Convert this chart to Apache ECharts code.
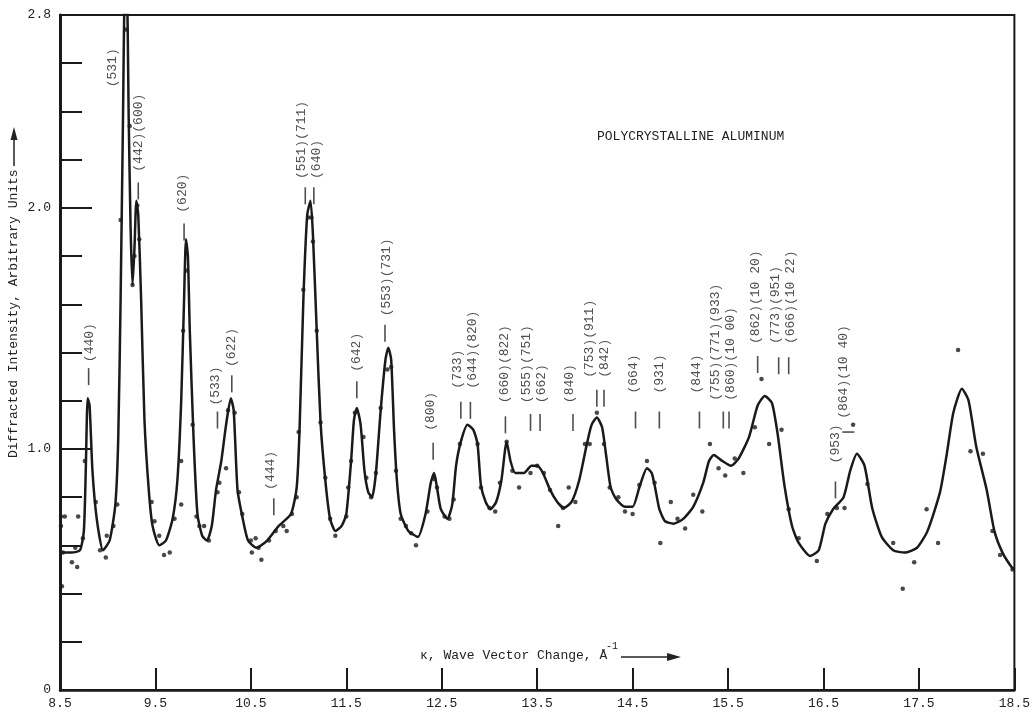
<!DOCTYPE html>
<html>
<head>
<meta charset="utf-8">
<title>Polycrystalline aluminum</title>
<script src="https://cdn.jsdelivr.net/npm/echarts@6/dist/echarts.min.js"></script>
<style>
  html, body { margin: 0; padding: 0; background: #fff; overflow: hidden; }
  #chart { width: 1033px; height: 717px; }
</style>
</head>
<body>
<div id="chart"></div>
<script>
// κ axis starts at 8.5; the axis is drawn from 0 and labelled with the offset
const K0 = 8.5;

// smooth curve drawn through the measurements
const curveK = [8.50,8.625,8.71,8.75,8.77,8.79,8.81,8.84,8.885,8.95,
  9.02,9.08,9.11,9.135,9.16,9.18,9.20,9.22,9.24,9.26,
  9.28,9.30,9.32,9.35,9.385,9.43,9.47,9.54,9.61,9.68,
  9.73,9.77,9.80,9.82,9.84,9.86,9.90,9.94,9.99,10.04,
  10.09,10.135,10.19,10.24,10.29,10.32,10.36,10.41,10.47,10.56,
  10.67,10.79,10.92,10.98,11.01,11.05,11.09,11.125,11.15,11.19,
  11.23,11.28,11.33,11.385,11.45,11.50,11.55,11.58,11.61,11.65,
  11.69,11.73,11.77,11.81,11.86,11.91,11.94,11.97,12.00,12.03,
  12.07,12.15,12.25,12.33,12.385,12.42,12.45,12.49,12.56,12.61,
  12.65,12.70,12.77,12.83,12.875,12.91,12.96,13.01,13.07,13.125,
  13.18,13.22,13.27,13.36,13.44,13.50,13.56,13.635,13.71,13.78,
  13.86,13.94,14.02,14.07,14.125,14.18,14.22,14.27,14.33,14.42,
  14.50,14.57,14.65,14.70,14.74,14.78,14.84,14.93,15.03,15.135,
  15.24,15.30,15.35,15.44,15.53,15.61,15.72,15.81,15.885,15.96,
  16.02,16.09,16.17,16.24,16.36,16.45,16.52,16.60,16.71,16.78,
  16.85,16.93,17.01,17.11,17.23,17.35,17.48,17.59,17.72,17.79,
  17.86,17.95,18.02,18.10,18.21,18.29,18.375,18.47,18.5];
const curveI = [0.57,0.57,0.58,0.66,0.91,1.21,1.18,0.91,0.71,0.58,
  0.62,0.77,1.04,1.62,2.37,2.9,2.9,2.37,1.91,1.68,
  1.83,2.03,1.97,1.62,1.12,0.83,0.68,0.60,0.62,0.71,
  0.87,1.20,1.62,1.87,1.80,1.49,1.04,0.73,0.64,0.62,
  0.68,0.83,0.95,1.10,1.21,1.16,0.83,0.72,0.62,0.59,
  0.62,0.68,0.73,0.84,1.08,1.62,1.97,2.03,1.89,1.49,
  1.11,0.87,0.71,0.66,0.68,0.73,0.95,1.12,1.17,1.10,
  0.91,0.82,0.80,0.90,1.16,1.37,1.42,1.37,1.08,0.87,
  0.73,0.66,0.635,0.73,0.86,0.90,0.84,0.75,0.71,0.77,
  0.93,1.03,1.10,1.08,1.02,0.85,0.78,0.75,0.78,0.87,
  1.03,0.95,0.90,0.90,0.93,0.93,0.90,0.83,0.78,0.755,
  0.78,0.87,1.02,1.10,1.13,1.09,0.98,0.84,0.79,0.76,
  0.76,0.84,0.92,0.90,0.83,0.75,0.70,0.69,0.71,0.76,
  0.86,0.95,0.975,0.95,0.93,0.96,1.05,1.18,1.22,1.19,
  1.06,0.85,0.68,0.61,0.556,0.58,0.69,0.75,0.80,0.91,
  0.98,0.93,0.755,0.635,0.58,0.57,0.59,0.66,0.82,0.975,
  1.15,1.25,1.20,1.01,0.83,0.66,0.57,0.51,0.50];

// measured points
const dotK = [8.51,8.55,8.69,8.51,8.74,8.53,8.66,8.625,8.68,8.52,
  8.76,8.875,8.92,8.98,8.99,9.06,9.10,9.135,9.19,9.23,
  9.26,9.28,9.33,9.31,9.46,9.49,9.54,9.59,9.65,9.70,
  9.77,9.77,9.79,9.83,9.89,9.93,9.96,10.01,10.06,10.15,
  10.17,10.24,10.26,10.33,10.375,10.41,10.50,10.55,10.51,10.61,
  10.58,10.69,10.76,10.84,10.875,10.93,10.98,11.00,11.05,11.10,
  11.135,11.15,11.19,11.23,11.28,11.33,11.385,11.50,11.52,11.55,
  11.59,11.68,11.71,11.76,11.81,11.86,11.93,11.97,12.02,12.07,
  12.125,12.18,12.23,12.35,12.42,12.45,12.53,12.58,12.625,12.69,
  12.875,12.91,13.00,13.06,13.11,13.18,13.24,13.31,13.43,13.50,
  13.57,13.635,13.83,13.72,13.77,13.90,14.00,14.05,14.125,14.20,
  14.26,14.35,14.42,14.50,14.57,14.65,14.73,14.79,14.90,14.97,
  15.05,15.135,15.23,15.31,15.40,15.47,15.57,15.66,15.78,15.85,
  15.93,16.06,16.135,16.24,16.43,16.54,16.64,16.72,16.81,16.96,
  17.23,17.33,17.45,17.58,17.70,17.91,18.04,18.17,18.27,18.35,
  18.48];
const dotI = [0.72,0.72,0.72,0.68,0.63,0.57,0.59,0.53,0.51,0.43,
  0.95,0.78,0.58,0.55,0.64,0.68,0.77,1.95,2.74,2.34,
  1.68,1.80,1.87,2.01,0.78,0.70,0.64,0.56,0.57,0.71,
  0.95,0.77,1.49,1.74,1.10,0.72,0.68,0.68,0.62,0.82,
  0.86,0.92,1.16,1.15,0.82,0.73,0.62,0.63,0.57,0.54,
  0.59,0.62,0.66,0.68,0.66,0.73,0.80,1.07,1.66,1.96,
  1.96,1.86,1.49,1.11,0.88,0.71,0.64,0.72,0.84,0.95,
  1.15,1.05,0.88,0.80,0.90,1.17,1.33,1.34,0.91,0.71,
  0.68,0.65,0.60,0.74,0.875,0.84,0.72,0.71,0.79,1.02,
  1.02,0.84,0.755,0.74,0.86,1.03,0.91,0.84,0.90,0.93,
  0.90,0.83,0.84,0.68,0.755,0.78,1.02,1.02,1.15,1.02,
  0.84,0.80,0.74,0.73,0.85,0.95,0.86,0.61,0.78,0.71,
  0.67,0.81,0.74,1.02,0.92,0.89,0.96,0.90,1.09,1.29,
  1.02,1.08,0.75,0.63,0.535,0.73,0.755,0.755,1.10,0.855,
  0.61,0.42,0.53,0.75,0.61,1.41,0.99,0.98,0.66,0.56,
  0.50];

// reflection labels (anchored at the lower end of the text)
const refText = ['(440)','(531)','(442)(600)','(620)','(533)','(622)','(444)',
  '(551)(711)\n(640)','(642)','(553)(731)','(800)','(733)\n(644)(820)','(660)(822)',
  '(555)(751)\n(662)','(840)','(753)(911)\n(842)','(664)','(931)','(844)',
  '(755)(771)(933)\n(860)(10 00)','(862)(10 20)','(773)(951)\n(666)(10 22)','(953)','(864)(10 40)'];
const refK = [8.81,9.05,9.32,9.78,10.135,10.30,10.71,11.11,11.61,11.92,12.385,12.745,13.155,
  13.47,13.84,14.125,14.51,14.78,15.17,15.45,15.79,16.08,16.625,16.71];
const refI = [1.36,2.50,2.15,1.98,1.18,1.34,0.83,2.12,1.32,1.55,1.075,1.25,1.19,
  1.19,1.19,1.295,1.23,1.23,1.23,1.20,1.435,1.435,0.94,1.125];

// short marker strokes under the labels
const tickK = [8.80,9.32,9.80,10.15,10.30,10.74,11.07,11.16,11.61,11.905,
  12.41,12.70,12.80,13.167,13.43,13.53,13.875,14.125,14.20,14.53,
  14.78,15.20,15.45,15.51,15.81,16.03,16.135,16.625];
const tickI = [1.30,2.07,1.90,1.12,1.27,0.76,2.05,2.05,1.245,1.48,
  0.99,1.16,1.16,1.10,1.11,1.11,1.11,1.21,1.21,1.12,
  1.12,1.12,1.12,1.12,1.35,1.345,1.345,0.83];
const stubK = [16.76];
const stubI = [1.07];

const FONT = '"Liberation Mono", "DejaVu Sans Mono", monospace';
const INK = '#1a1a1a';

const pairs = (ks, vs) => ks.map((k, i) => [k - K0, vs[i]]);

const chart = echarts.init(document.getElementById('chart'));

const yLabel = v => {
  const r = Math.round(v * 10) / 10;
  if (r === 0) return '0';
  if (r === 1 || r === 2 || r === 2.8) return r.toFixed(1);
  return '';
};

chart.setOption({
  animation: false,
  backgroundColor: '#fff',
  grid: { left: 60, right: 10, top: 15, bottom: 27, show: true, borderColor: INK, borderWidth: 2 },
  xAxis: {
    type: 'value', min: 0, max: 10, interval: 1,
    axisLine: { lineStyle: { color: INK, width: 2.5 } },
    axisTick: { inside: true, length: 22, lineStyle: { color: INK, width: 2 } },
    axisLabel: { formatter: v => (v + K0).toFixed(1), margin: 7, fontFamily: FONT, fontSize: 13, color: '#222' },
    splitLine: { show: false }
  },
  yAxis: [{
    type: 'value', min: 0, max: 2.8, interval: 0.2,
    axisLine: { show: true, lineStyle: { color: INK, width: 3 } },
    axisTick: { inside: true, length: 22, lineStyle: { color: INK, width: 2 } },
    axisLabel: { formatter: yLabel, margin: 9, fontFamily: FONT, fontSize: 13, color: '#222', padding: [0, 0, 8, 0] },
    splitLine: { show: false }
  }, {
    type: 'value', min: 0, max: 2.8, interval: 1, position: 'left',
    axisLine: { show: false },
    axisTick: { inside: true, length: 32, lineStyle: { color: INK, width: 2 } },
    axisLabel: { show: false },
    splitLine: { show: false }
  }],
  series: [{
    type: 'line',
    data: pairs(curveK, curveI),
    symbol: 'none',
    smooth: 0.2,
    clip: true,
    lineStyle: { color: INK, width: 2.5 },
    z: 3
  }, {
    type: 'scatter',
    data: pairs(dotK, dotI),
    symbolSize: 4.5,
    itemStyle: { color: INK },
    z: 4
  }, {
    type: 'scatter',
    data: pairs(tickK, tickI),
    symbol: 'rect',
    symbolSize: [1.6, 17],
    itemStyle: { color: '#222' }
  }, {
    type: 'scatter',
    data: pairs(stubK, stubI),
    symbol: 'rect',
    symbolSize: [12, 1.6],
    itemStyle: { color: '#222' }
  }, {
    type: 'scatter',
    data: refText.map((t, i) => ({ name: t, value: [refK[i] - K0, refI[i]] })),
    symbolSize: 0,
    label: {
      show: true, position: 'inside', rotate: 90, align: 'left', verticalAlign: 'middle',
      formatter: p => p.name, fontFamily: FONT, fontSize: 13, lineHeight: 15, color: '#222'
    }
  }],
  graphic: [
    { type: 'text', x: 14, y: 458, rotation: Math.PI / 2,
      style: { text: 'Diffracted Intensity, Arbitrary Units', font: '13px ' + FONT, fill: '#222', align: 'left', verticalAlign: 'middle' } },
    { type: 'line', shape: { x1: 14, y1: 166, x2: 14, y2: 138 }, style: { stroke: '#222', lineWidth: 1.5 } },
    { type: 'polygon', shape: { points: [[14, 127], [10.5, 140], [17.5, 140]] }, style: { fill: '#222' } },
    { type: 'text', x: 420, y: 656,
      style: { text: 'κ, Wave Vector Change, Å', font: '13px ' + FONT, fill: '#222', align: 'left', verticalAlign: 'middle' } },
    { type: 'text', x: 606, y: 646,
      style: { text: '-1', font: '10px ' + FONT, fill: '#222', align: 'left', verticalAlign: 'middle' } },
    { type: 'line', shape: { x1: 621, y1: 657, x2: 668, y2: 657 }, style: { stroke: '#222', lineWidth: 1.5 } },
    { type: 'polygon', shape: { points: [[681, 657], [667, 653], [667, 661]] }, style: { fill: '#222' } },
    { type: 'text', x: 597, y: 137,
      style: { text: 'POLYCRYSTALLINE ALUMINUM', font: '13px ' + FONT, fill: '#222', align: 'left', verticalAlign: 'middle' } }
  ]
});
</script>
</body>
</html>
